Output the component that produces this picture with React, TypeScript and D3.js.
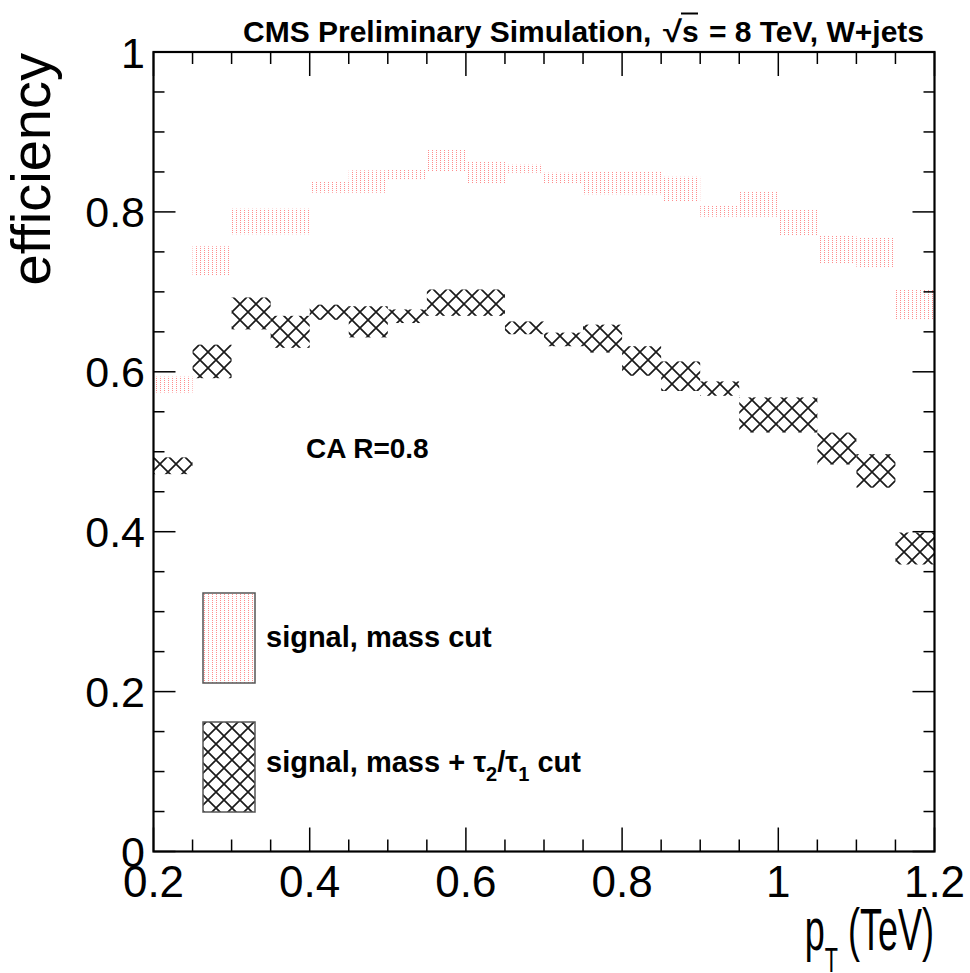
import React from 'react';
import * as d3 from 'd3';

// bin edges in pT (TeV)
const binEdges = [0.2, 0.25, 0.3, 0.35, 0.4, 0.45, 0.5, 0.55, 0.6, 0.65, 0.7, 0.75, 0.8, 0.85, 0.9, 0.95, 1.0, 1.05, 1.1, 1.15, 1.2];

// signal, mass cut: band low / high
const massLo = [0.574, 0.720, 0.772, 0.772, 0.824, 0.824, 0.841, 0.851, 0.836, 0.849, 0.836, 0.822, 0.822, 0.813, 0.794, 0.794, 0.770, 0.736, 0.730, 0.665];
const massHi = [0.594, 0.757, 0.804, 0.804, 0.838, 0.852, 0.853, 0.878, 0.863, 0.859, 0.849, 0.851, 0.851, 0.844, 0.808, 0.826, 0.803, 0.770, 0.768, 0.703];

// signal, mass + tau2/tau1 cut: band low / high
const tauLo = [0.472, 0.592, 0.653, 0.630, 0.665, 0.643, 0.661, 0.670, 0.670, 0.647, 0.632, 0.624, 0.595, 0.576, 0.570, 0.524, 0.524, 0.484, 0.455, 0.359];
const tauHi = [0.493, 0.634, 0.693, 0.670, 0.684, 0.682, 0.678, 0.703, 0.703, 0.663, 0.649, 0.659, 0.632, 0.613, 0.588, 0.568, 0.568, 0.524, 0.497, 0.399];

const xMajorTicks = [0.2, 0.4, 0.6, 0.8, 1.0, 1.2];
const xTickLabels = ['0.2', '0.4', '0.6', '0.8', '1', '1.2'];
const yMajorTicks = [0, 0.2, 0.4, 0.6, 0.8, 1.0];
const yTickLabels = ['0', '0.2', '0.4', '0.6', '0.8', '1'];

const W = 970;
const H = 973;
const L = 153.5, R = 934.5, T = 52, B = 851.5;
const FONT = "'Liberation Sans', Arial, Helvetica, sans-serif";

export default function App() {
  const x = d3.scaleLinear().domain([0.2, 1.2]).range([L, R]);
  const y = d3.scaleLinear().domain([0, 1]).range([B, T]);

  const xMinor = d3.range(0.2, 1.2001, 0.05);
  const yMinor = d3.range(0, 1.0001, 0.05);
  const isMajor = (v: number, majors: number[]) => majors.some((m) => Math.abs(m - v) < 1e-6);

  const bins = massLo.map((_, i) => ({ x0: binEdges[i], x1: binEdges[i + 1] }));

  return (
    <svg width={W} height={H} style={{ position: 'absolute', left: 0, top: 0, background: '#fff' }} fontFamily={FONT}>
      <defs>
        <pattern id="reddots" patternUnits="userSpaceOnUse" width="4" height="2">
          <rect x="0" y="0" width="1" height="1" fill="#ff3030" opacity="0.55" />
        </pattern>
        <pattern id="xhatch" patternUnits="userSpaceOnUse" width="16" height="16">
          <path d="M0,0 L16,16 M16,0 L0,16 M-2,14 L2,18 M14,-2 L18,2 M-2,2 L2,-2 M14,18 L18,14" stroke="#1a1a1a" strokeWidth="1.7" fill="none" />
        </pattern>
      </defs>
      <rect x={0} y={0} width={W} height={H} fill="#fff" />

      {/* bands */}
      {bins.map((b, i) => (
        <rect key={'m' + i} x={x(b.x0)} y={y(massHi[i])} width={x(b.x1) - x(b.x0)} height={y(massLo[i]) - y(massHi[i])} fill="url(#reddots)" />
      ))}
      {bins.map((b, i) => (
        <rect key={'t' + i} x={x(b.x0)} y={y(tauHi[i])} width={x(b.x1) - x(b.x0)} height={y(tauLo[i]) - y(tauHi[i])} fill="url(#xhatch)" />
      ))}

      {/* ticks */}
      {xMinor.map((v, i) => {
        const len = isMajor(v, xMajorTicks) ? 24 : 12;
        return (
          <g key={'xt' + i} stroke="#000" strokeWidth={1.5}>
            <line x1={x(v)} x2={x(v)} y1={B} y2={B - len} />
            <line x1={x(v)} x2={x(v)} y1={T} y2={T + len} />
          </g>
        );
      })}
      {yMinor.map((v, i) => {
        const len = isMajor(v, yMajorTicks) ? 22 : 11;
        return (
          <g key={'yt' + i} stroke="#000" strokeWidth={1.5}>
            <line x1={L} x2={L + len} y1={y(v)} y2={y(v)} />
            <line x1={R} x2={R - len} y1={y(v)} y2={y(v)} />
          </g>
        );
      })}

      {/* frame */}
      <rect x={L} y={T} width={R - L} height={B - T} fill="none" stroke="#000" strokeWidth={2.2} />

      {/* tick labels */}
      {xMajorTicks.map((v, i) => (
        <text key={'xl' + i} x={x(v)} y={897} fontSize={44} textAnchor="middle" fill="#000">{xTickLabels[i]}</text>
      ))}
      {yMajorTicks.map((v, i) => (
        <text key={'yl' + i} x={145} y={y(v) + 15.5} fontSize={43} textAnchor="end" fill="#000">{yTickLabels[i]}</text>
      ))}

      {/* axis titles */}
      <text transform="translate(50,53) rotate(-90)" fontSize={56} textAnchor="end" fill="#000">efficiency</text>
      <g transform="translate(934,950) scale(0.6,1)">
        <text x={0} y={0} fontSize={60} textAnchor="end" fill="#000">
          p<tspan fontSize={36} dy={22}>T</tspan><tspan dy={-22}> (TeV)</tspan>
        </text>
      </g>

      {/* title */}
      <text x={243} y={41.7} fontSize={30} fontWeight="bold" fill="#000">CMS Preliminary Simulation,</text>
      <text x={663} y={41.7} fontSize={30} fontWeight="bold" fill="#000" textLength={19} lengthAdjust="spacingAndGlyphs">√</text>
      <line x1={681} x2={698} y1={13.5} y2={13.5} stroke="#000" strokeWidth={2} />
      <text x={682} y={41.7} fontSize={30} fontWeight="bold" fill="#000">s</text>
      <text x={924} y={41.7} fontSize={30} fontWeight="bold" fill="#000" textAnchor="end">= 8 TeV, W+jets</text>

      {/* annotation */}
      <text x={306} y={458} fontSize={28} fontWeight="bold" fill="#000">CA R=0.8</text>

      {/* legend */}
      <rect x={203} y={593} width={52} height={90} fill="url(#reddots)" stroke="#555" strokeWidth={1.5} />
      <rect x={203} y={722} width={52} height={90} fill="url(#xhatch)" stroke="#555" strokeWidth={1.5} />
      <text x={266} y={647} fontSize={29} fontWeight="bold" fill="#000">signal, mass cut</text>
      <text x={266} y={772} fontSize={29} fontWeight="bold" fill="#000">
        signal, mass + τ<tspan fontSize={20} dy={9}>2</tspan><tspan dy={-9}>/τ</tspan><tspan fontSize={20} dy={9}>1</tspan><tspan dy={-9}> cut</tspan>
      </text>
    </svg>
  );
}
